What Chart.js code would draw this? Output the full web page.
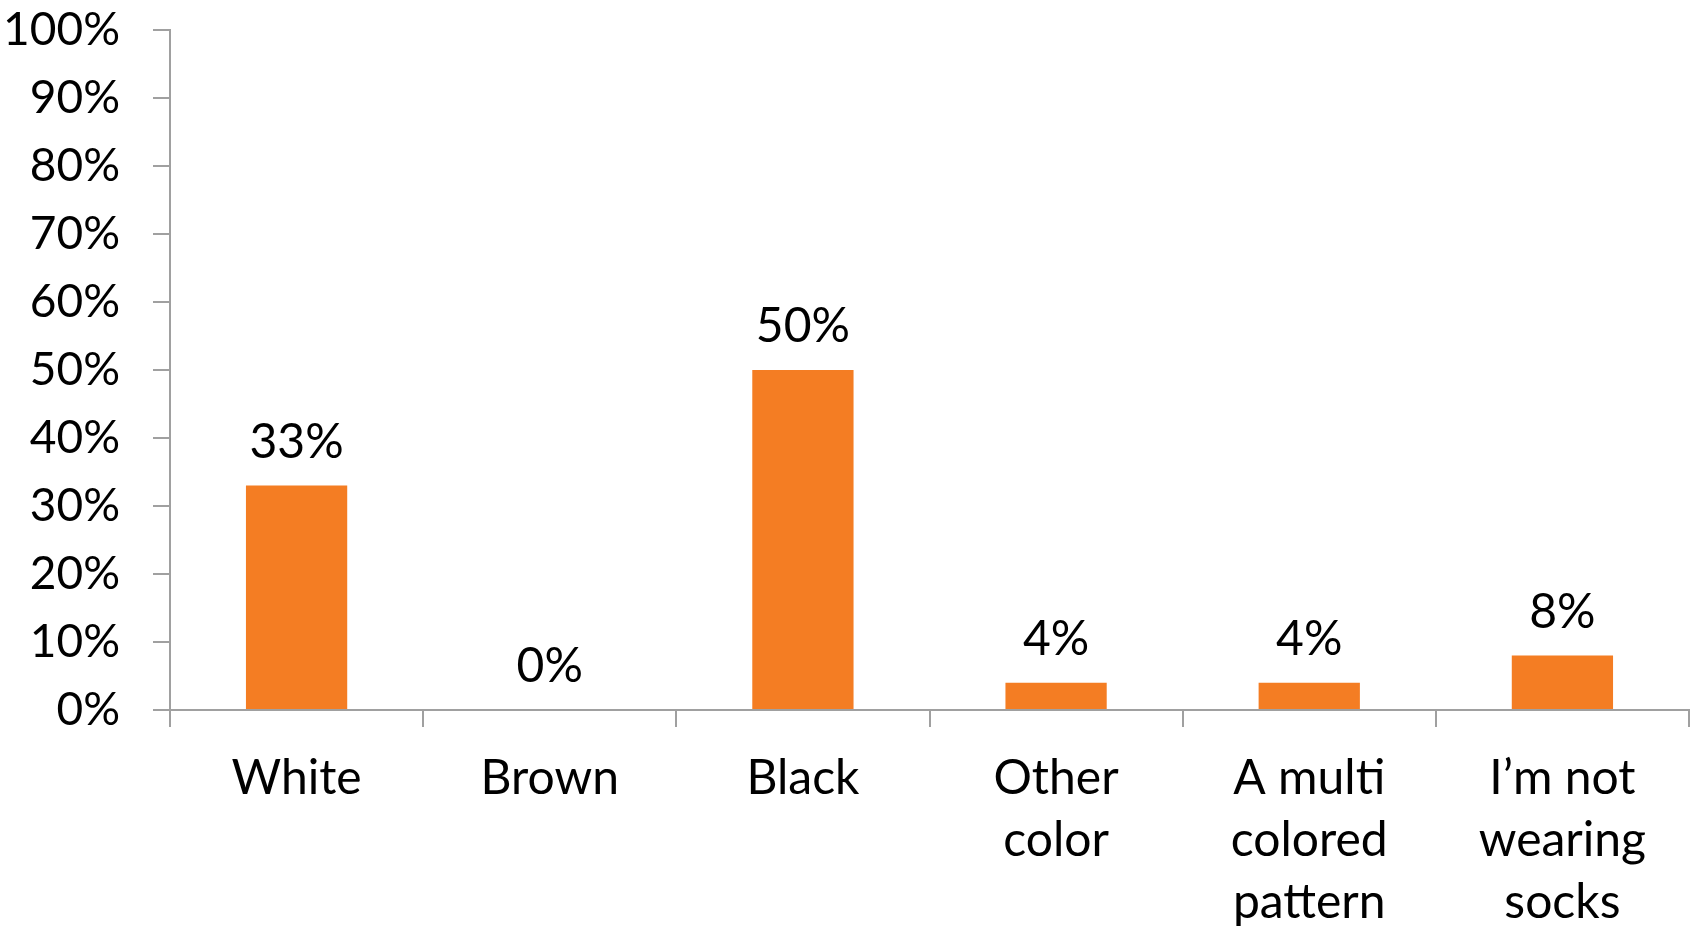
<!DOCTYPE html>
<html>
<head>
<meta charset="utf-8">
<script src="https://cdn.jsdelivr.net/npm/chart.js@4"></script>
<style>
  html, body { margin: 0; padding: 0; background: #fff; }
  #wrap { width: 1692px; height: 927px; }
</style>
</head>
<body>
<div id="wrap"><canvas id="sockChart" width="1692" height="927"></canvas></div>
<script>
const categories = [
    'White',
    'Brown',
    'Black',
    ['Other', 'color'],
    ['A multi', 'colored', 'pattern'],
    ['I\u2019m not', 'wearing', 'socks']
];
const percents = [33, 0, 50, 4, 4, 8];
const yTicks = [0, 10, 20, 30, 40, 50, 60, 70, 80, 90, 100];

const barColor = '#F47D23';
const axisColor = '#A0A0A0';
const fontFamily = 'Lato, "Open Sans", sans-serif';

// draw the % text above each bar
const valueLabels = {
    id: 'valueLabels',
    afterDatasetsDraw(chart) {
        const ctx = chart.ctx;
        const meta = chart.getDatasetMeta(0);
        ctx.save();
        ctx.font = '48px ' + fontFamily;
        ctx.fillStyle = '#000';
        ctx.textAlign = 'center';
        ctx.textBaseline = 'middle';
        meta.data.forEach((bar, i) => {
            ctx.fillText(percents[i] + '%', bar.x, bar.y - 43);
        });
        ctx.restore();
    }
};

const ctx = document.getElementById('sockChart').getContext('2d');
new Chart(ctx, {
    type: 'bar',
    data: {
        labels: categories,
        datasets: [{
            data: percents,
            backgroundColor: barColor,
            borderWidth: 0,
            barPercentage: 0.4,
            categoryPercentage: 1.0
        }]
    },
    options: {
        responsive: false,
        animation: false,
        layout: { padding: { top: 0, right: 3, left: 0, bottom: 0 } },
        plugins: {
            legend: { display: false },
            tooltip: { enabled: false }
        },
        scales: {
            x: {
                offset: true,
                grid: {
                    display: true,
                    drawOnChartArea: false,
                    drawTicks: true,
                    tickLength: 17,
                    offset: true,
                    color: axisColor,
                    lineWidth: 2
                },
                border: { display: true, color: axisColor, width: 2 },
                ticks: {
                    color: '#000',
                    font: { family: fontFamily, size: 48, lineHeight: 1.3 },
                    padding: 20,
                    maxRotation: 0,
                    autoSkip: false
                },
                afterFit(scale) { scale.height = 217; }
            },
            y: {
                min: 0,
                max: 100,
                afterBuildTicks(scale) {
                    scale.ticks = yTicks.map(v => ({ value: v }));
                },
                grid: {
                    display: true,
                    drawOnChartArea: false,
                    drawTicks: true,
                    tickLength: 17,
                    color: axisColor,
                    lineWidth: 2
                },
                border: { display: true, color: axisColor, width: 2 },
                ticks: {
                    color: '#000',
                    font: { family: fontFamily, size: 46 },
                    padding: 33,
                    callback: v => v + '%'
                },
                afterFit(scale) {
                    scale.width = 170;
                    scale.paddingTop = 30;
                    scale.paddingBottom = 0;
                }
            }
        }
    },
    plugins: [valueLabels]
});
</script>
</body>
</html>
